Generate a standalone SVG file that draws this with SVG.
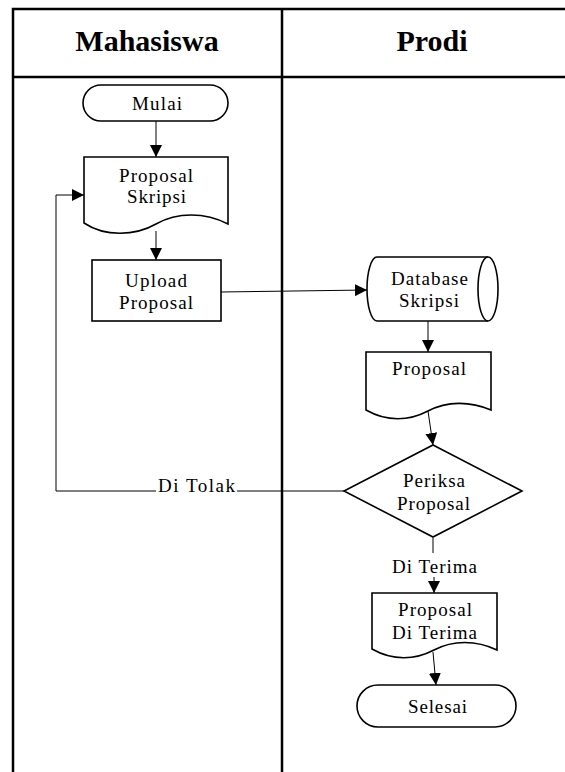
<svg xmlns="http://www.w3.org/2000/svg" width="565" height="772" viewBox="0 0 565 772">
<defs>
<marker id="ah" markerWidth="12" markerHeight="12" refX="12" refY="6" orient="auto" markerUnits="userSpaceOnUse">
<path d="M0,0 L12,6 L0,12 Z" fill="#000"/>
</marker>
<style>
.frame{fill:none;stroke:#000;stroke-width:2.5}
.shape{fill:#fff;stroke:#000;stroke-width:1.6}
.conn{fill:none;stroke:#000;stroke-width:1}
.hdr{font-family:"Liberation Serif","Times New Roman",serif;font-weight:bold;font-size:30px;text-anchor:middle}
.t{font-family:"Liberation Serif","Times New Roman",serif;font-size:19px;fill:#000}
</style>
</defs>
<rect width="565" height="772" fill="#fff"/>
<g id="lanes">
<path class="frame" d="M13,772 V9 H566 M13,77 H566 M282,9 V772"/>
<text class="hdr" x="147" y="51">Mahasiswa</text>
<text class="hdr" x="432" y="51">Prodi</text>
</g>
<g id="connectors">
<path class="conn" d="M156,121 V157" marker-end="url(#ah)"/>
<path class="conn" d="M156,231 V260" marker-end="url(#ah)"/>
<path class="conn" d="M221,292 L367,290" marker-end="url(#ah)"/>
<path class="conn" d="M428,321 V352" marker-end="url(#ah)"/>
<path class="conn" d="M428,411 L433,445" marker-end="url(#ah)"/>
<path class="conn" d="M344,491 H237 M156,491 H56 V195 H84" marker-end="url(#ah)"/>
<text class="t" x="158" y="492" textLength="77" lengthAdjust="spacing">Di Tolak</text>
<path class="conn" d="M433,538 V553"/>
<text class="t" x="392" y="573" textLength="85" lengthAdjust="spacing">Di Terima</text>
<path class="conn" d="M434,577 V593" marker-end="url(#ah)"/>
<path class="conn" d="M433,652 L436,685" marker-end="url(#ah)"/>
</g>
<g id="mulai">
<rect class="shape" x="83" y="85" width="145" height="36" rx="18"/>
<text class="t" x="132" y="110" textLength="50" lengthAdjust="spacing">Mulai</text>
</g>
<g id="proposal-skripsi">
<path class="shape" d="M84,157 H228 V224 C205,212 177,212 156,224 C135,236 105,237 84,223 Z"/>
<text class="t" x="119" y="182" textLength="74" lengthAdjust="spacing">Proposal</text>
<text class="t" x="127" y="203" textLength="59" lengthAdjust="spacing">Skripsi</text>
</g>
<g id="upload-proposal">
<rect class="shape" x="92" y="260" width="129" height="61"/>
<text class="t" x="125" y="287" textLength="62" lengthAdjust="spacing">Upload</text>
<text class="t" x="119" y="309" textLength="74" lengthAdjust="spacing">Proposal</text>
</g>
<g id="database-skripsi">
<path class="shape" d="M377,257 H488 A10,32 0 0 1 488,321 H377 A10,32 0 0 1 377,257 Z"/>
<path class="shape" fill="none" d="M488,257 A10,32 0 0 0 488,321"/>
<text class="t" x="391" y="285" textLength="77" lengthAdjust="spacing">Database</text>
<text class="t" x="399" y="307" textLength="60" lengthAdjust="spacing">Skripsi</text>
</g>
<g id="proposal-prodi">
<path class="shape" d="M366,352 H491 V410 C470,401 447,401 428,411 C409,421 387,422 366,410 Z"/>
<text class="t" x="392" y="375" textLength="74" lengthAdjust="spacing">Proposal</text>
</g>
<g id="periksa-proposal">
<path class="shape" d="M433,445 L522,491 L433,537 L344,491 Z"/>
<text class="t" x="403" y="487" textLength="62" lengthAdjust="spacing">Periksa</text>
<text class="t" x="397" y="510" textLength="73" lengthAdjust="spacing">Proposal</text>
</g>
<g id="proposal-diterima">
<path class="shape" d="M372,593 H497 V650 C476,640 453,640 434,650 C415,660 393,661 372,649 Z"/>
<text class="t" x="398" y="616" textLength="74" lengthAdjust="spacing">Proposal</text>
<text class="t" x="392" y="639" textLength="85" lengthAdjust="spacing">Di Terima</text>
</g>
<g id="selesai">
<rect class="shape" x="357" y="685" width="159" height="42" rx="21"/>
<text class="t" x="408" y="713" textLength="59" lengthAdjust="spacing">Selesai</text>
</g>
</svg>
